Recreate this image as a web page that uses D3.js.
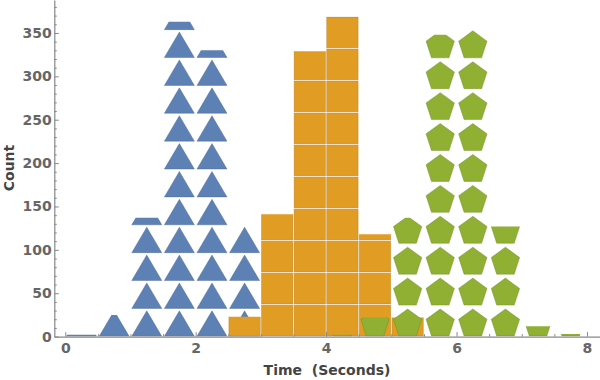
<!DOCTYPE html>
<html>
<head>
<meta charset="utf-8">
<script src="https://cdn.jsdelivr.net/npm/d3@7"></script>
<style>
  html, body { margin: 0; padding: 0; background: #fff; }
  svg { display: block; }
  text { font-family: "DejaVu Sans", sans-serif; font-weight: bold; }
</style>
</head>
<body>
<svg id="chart" width="600" height="380"></svg>
<script>
// ---- data ----
const binStarts = [0, 0.5, 1, 1.5, 2, 2.5, 3, 3.5, 4, 4.5, 5, 5.5, 6, 6.5, 7, 7.5];
const binWidth = 0.5;
const blueCounts   = [2, 25, 137, 363, 330, 128, 0, 0, 0, 0, 0, 0, 0, 0, 0, 0];
const orangeCounts = [0, 0, 0, 0, 0, 23, 141, 329, 369, 118, 22, 0, 0, 0, 0, 0];
const greenCounts  = [0, 0, 0, 0, 0, 0, 0, 0, 2, 22, 137, 348, 355, 127, 12, 3];
const seriesNames  = ["triangle", "square", "pentagon"];
const seriesColors = ["#5E81B5", "#E19C24", "#8FB032"];
const xMajorTicks = [0, 2, 4, 6, 8];
const yMajorTicks = [0, 50, 100, 150, 200, 250, 300, 350];
const xLabel = "Time  (Seconds)";
const yLabel = "Count";

// ---- layout ----
const svg = d3.select("#chart");
const x = d3.scaleLinear().domain([-0.168, 8.2]).range([54.3, 600]);
const y = d3.scaleLinear().domain([0, 388]).range([336.6, 0]);
const y0 = y(0);

const defs = svg.append("defs");
const plot = svg.append("g");

const series = [blueCounts, orangeCounts, greenCounts];
let clipId = 0;

function drawSeries(counts, kind, color) {
  const g = plot.append("g");
  const edge = d3.color(color).darker(0.7).formatHex();
  counts.forEach((c, i) => {
    if (c <= 0) return;
    const xa = x(binStarts[i]), xb = x(binStarts[i] + binWidth);
    const w = xb - xa;
    const top = y(c);
    const id = "clip" + (clipId++);
    defs.append("clipPath").attr("id", id)
      .append("rect").attr("x", xa - 1).attr("y", top)
      .attr("width", w + 2).attr("height", y0 - top);
    const cg = g.append("g").attr("clip-path", `url(#${id})`);
    let h;
    if (kind === "triangle") h = w * 0.855;
    else if (kind === "square") h = w * 0.982;
    else h = w * 0.948;
    const n = Math.ceil((y0 - top) / h);
    const cx = (xa + xb) / 2;
    for (let k = 0; k < n; k++) {
      const bottom = y0 - k * h;
      if (kind === "triangle") {
        const half = w * 0.46, th = w * 0.78, b = bottom - 0.3;
        cg.append("path")
          .attr("d", `M${cx - half},${b}L${cx + half},${b}L${cx},${b - th}Z`)
          .attr("fill", color).attr("stroke", edge)
          .attr("stroke-width", 0.7).attr("stroke-opacity", 0.6);
      } else if (kind === "square") {
        cg.append("rect")
          .attr("x", xa + 0.6).attr("y", bottom - h + 0.6)
          .attr("width", w - 1.2).attr("height", h - 1.2)
          .attr("fill", color).attr("stroke", edge)
          .attr("stroke-width", 0.7).attr("stroke-opacity", 0.5);
      } else {
        const R = w * 0.87 / (2 * Math.sin(72 * Math.PI / 180));
        const b = bottom - 0.6;
        const cy = b - R * Math.cos(36 * Math.PI / 180);
        const pts = d3.range(5).map(j => {
          const a = -Math.PI / 2 + j * 2 * Math.PI / 5;
          return [cx + R * Math.cos(a), cy + R * Math.sin(a)];
        });
        cg.append("path")
          .attr("d", "M" + pts.map(p => p.join(",")).join("L") + "Z")
          .attr("fill", color).attr("stroke", edge)
          .attr("stroke-width", 0.7).attr("stroke-opacity", 0.6);
      }
    }
  });
}

series.forEach((s, i) => drawSeries(s, seriesNames[i], seriesColors[i]));

// ---- axes ----
const axisColor = "#888";
const labelColor = "#666";

const yMinor = d3.range(0, 390, 10).filter(v => v % 50 !== 0);
const xMinor = d3.range(0, 8.01, 0.5).filter(v => v % 2 !== 0);

const gyMinor = svg.append("g").attr("transform", `translate(${x.range()[0]},0)`)
  .call(d3.axisLeft(y).tickValues(yMinor).tickSize(-2.5).tickFormat(""));
const gy = svg.append("g").attr("transform", `translate(${x.range()[0]},0)`)
  .call(d3.axisLeft(y).tickValues(yMajorTicks).tickSizeInner(-4.5).tickSizeOuter(0).tickPadding(2.5));
const gxMinor = svg.append("g").attr("transform", `translate(0,${y0})`)
  .call(d3.axisBottom(x).tickValues(xMinor).tickSize(-2.5).tickFormat(""));
const gx = svg.append("g").attr("transform", `translate(0,${y0})`)
  .call(d3.axisBottom(x).tickValues(xMajorTicks).tickSizeInner(-4.5).tickSizeOuter(0).tickPadding(6.5));

[gyMinor, gxMinor].forEach(g => g.select(".domain").remove());
[gy, gx, gyMinor, gxMinor].forEach(g => {
  g.selectAll(".domain").attr("stroke", axisColor).attr("stroke-width", 1.2);
  g.selectAll(".tick line").attr("stroke", axisColor);
  g.selectAll("text").attr("fill", labelColor)
    .style("font-family", "'DejaVu Sans', sans-serif")
    .style("font-weight", "bold").style("font-size", "14px");
});

svg.append("text")
  .attr("transform", "translate(14,168) rotate(-90)")
  .attr("text-anchor", "middle")
  .attr("fill", "#444").style("font-size", "14px")
  .text(yLabel);

svg.append("text")
  .attr("x", 327).attr("y", 375)
  .attr("text-anchor", "middle")
  .attr("fill", "#444").style("font-size", "14px")
  .style("white-space", "pre")
  .text(xLabel);
</script>
</body>
</html>
